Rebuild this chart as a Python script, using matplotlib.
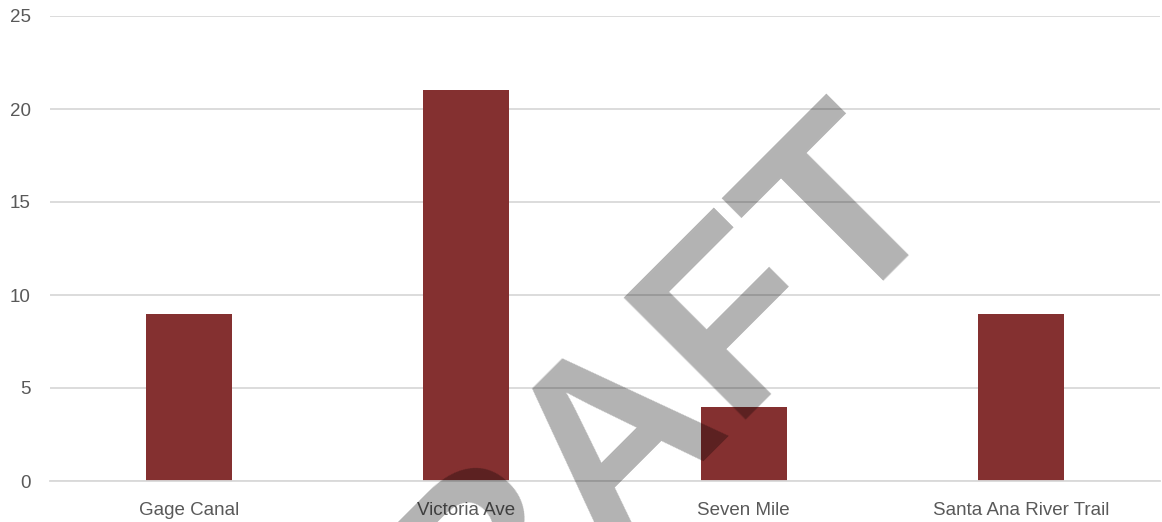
import matplotlib
matplotlib.use("Agg")
import matplotlib.pyplot as plt
import numpy as np

# Counts per site.
sites = ["Gage Canal", "Victoria Ave", "Seven Mile", "Santa Ana River Trail"]
counts = [9, 21, 4, 9]
y_ticks = [0, 5, 10, 15, 20, 25]

BAR_COLOR = "#843030"
GRID_COLOR = "#d9d9d9"
TEXT_COLOR = "#595959"

plt.rcParams["font.family"] = ["Liberation Sans", "DejaVu Sans"]

fig = plt.figure(figsize=(11.62, 5.22), dpi=100)
ax = fig.add_axes([50 / 1162, 41 / 522, 1110 / 1162, 465 / 522])

x = np.arange(len(sites))
ax.bar(x, counts, width=0.31, color=BAR_COLOR, zorder=2)

ax.set_xlim(-0.5, len(sites) - 0.5)
ax.set_ylim(0, 25)
ax.set_yticks(y_ticks)
ax.set_xticks(x)
ax.set_xticklabels(sites)

ax.grid(axis="y", color=GRID_COLOR, linewidth=1.3, zorder=0)
for side in ["top", "right", "left"]:
    ax.spines[side].set_visible(False)
ax.spines["bottom"].set_color(GRID_COLOR)
ax.spines["bottom"].set_linewidth(1.3)
ax.tick_params(axis="both", length=0, labelsize=13.5, labelcolor=TEXT_COLOR)
ax.tick_params(axis="y", pad=14)
ax.tick_params(axis="x", pad=15)

# Watermark across the plot.
fig.text(599 / 1162, 1 - 457 / 522, "DRAFT", rotation=45, rotation_mode="anchor",
         ha="center", va="center", fontsize=181, fontweight="bold",
         color="black", alpha=0.3, zorder=10, clip_on=True)

fig.savefig("out.png", dpi=100)
